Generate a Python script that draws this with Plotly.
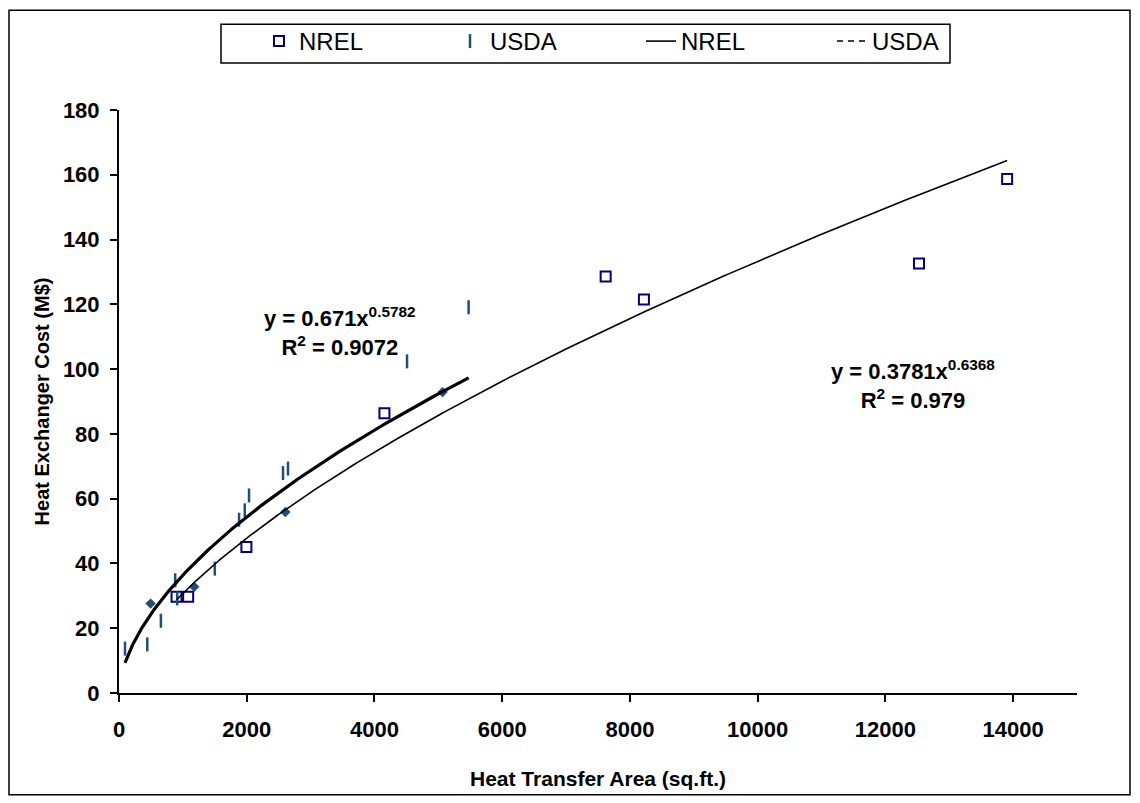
import numpy as np
import plotly.graph_objects as go

# ---- data ----
nrel_x = [901, 1083, 1995, 4156, 7620, 8219, 12526, 13906]
nrel_y = [29.7, 29.7, 45.1, 86.4, 128.6, 121.5, 132.6, 158.7]

usda_x = [94, 443, 656, 880, 911, 1500, 1880, 1969, 2036, 2568, 2646, 4510, 5474]
usda_y = [13.7, 15.0, 22.3, 34.8, 29.2, 38.4, 53.5, 56.4, 61.0, 67.9, 69.3, 102.4, 119.1]
# overlapping USDA points that render as small blobs
usda_blob_x = [495, 1177, 2605, 5067]
usda_blob_y = [27.6, 32.8, 55.9, 92.9]

# power-law trendlines y = a * x^b, as printed on the chart
nrel_fit = {"a": 0.3781, "b": 0.6368, "r2": 0.979, "xmin": 901, "xmax": 13906}
usda_fit = {"a": 0.671, "b": 0.5782, "r2": 0.9072, "xmin": 94, "xmax": 5474}

x_ticks = [0, 2000, 4000, 6000, 8000, 10000, 12000, 14000]
y_ticks = [0, 20, 40, 60, 80, 100, 120, 140, 160, 180]


def trend(fit):
    xs = np.geomspace(fit["xmin"], fit["xmax"], 300)
    return xs, fit["a"] * xs ** fit["b"]


FONT = "Arial, Liberation Sans, sans-serif"
NAVY = "#000080"
USDA_C = "#1F4E79"

# page has an 8px body margin: figure is 1132x795, placed at (8,8)
W, H = 1132, 795
ML, MT, PW, PH = 111, 101, 958, 584
MR, MB = W - ML - PW, H - MT - PH


def px_to_paper_x(fx):
    return (fx - ML) / PW


def px_to_paper_y(fy):
    return (MT + PH - fy) / PH


fig = go.Figure()

fig.add_trace(go.Scatter(
    x=nrel_x, y=nrel_y, mode="markers", name="NREL",
    marker=dict(symbol="square-open", size=10, color=NAVY, line=dict(width=2, color=NAVY)),
))
fig.add_trace(go.Scatter(
    x=usda_x, y=usda_y, mode="markers", name="USDA", legendgroup="usda",
    marker=dict(symbol="line-ns", size=10, color=USDA_C, line=dict(width=2.5, color=USDA_C)),
))
fig.add_trace(go.Scatter(
    x=usda_blob_x, y=usda_blob_y, mode="markers", name="USDA", legendgroup="usda",
    showlegend=False,
    marker=dict(symbol="diamond", size=8, color=USDA_C),
))

nx, ny = trend(nrel_fit)
fig.add_trace(go.Scatter(x=nx, y=ny, mode="lines", name="NREL",
                         line=dict(color="black", width=1.6)))

ux, uy = trend(usda_fit)
fig.add_trace(go.Scatter(x=ux, y=uy, mode="lines", name="USDA", showlegend=False,
                         legendgroup="usdafit",
                         line=dict(color="black", width=3.2)))
fig.add_trace(go.Scatter(x=[None], y=[None], mode="lines", name="USDA",
                         legendgroup="usdafit",
                         line=dict(color="black", width=1.5, dash="6px,5px")))

fig.add_annotation(
    x=3453, y=111.6, xref="x", yref="y", showarrow=False,
    text=f"y = {usda_fit['a']}x<sup>{usda_fit['b']}</sup><br>R<sup>2</sup> = {usda_fit['r2']}",
    font=dict(family=FONT, size=22, color="black", weight="bold"), align="center",
)
fig.add_annotation(
    x=12437, y=95.3, xref="x", yref="y", showarrow=False,
    text=f"y = {nrel_fit['a']}x<sup>{nrel_fit['b']}</sup><br>R<sup>2</sup> = {nrel_fit['r2']}",
    font=dict(family=FONT, size=22, color="black", weight="bold"), align="center",
)

# outer chart frame
fig.add_shape(type="rect", xref="paper", yref="paper",
              x0=px_to_paper_x(1), x1=px_to_paper_x(1122),
              y0=px_to_paper_y(787), y1=px_to_paper_y(1),
              line=dict(color="black", width=1.5), layer="below")
# legend frame
fig.add_shape(type="rect", xref="paper", yref="paper",
              x0=px_to_paper_x(213), x1=px_to_paper_x(942),
              y0=px_to_paper_y(54), y1=px_to_paper_y(15),
              line=dict(color="black", width=1.5), fillcolor="white", layer="below")

fig.update_layout(
    width=W, height=H,
    margin=dict(l=ML, r=MR, t=MT, b=MB),
    paper_bgcolor="white", plot_bgcolor="white",
    font=dict(family=FONT, color="black"),
    showlegend=True,
    legend=dict(
        orientation="h", x=px_to_paper_x(251), y=px_to_paper_y(11),
        xanchor="left", yanchor="top",
        borderwidth=0, bgcolor="rgba(0,0,0,0)",
        font=dict(family=FONT, size=24, color="black"),
        entrywidth=146, entrywidthmode="pixels",
        traceorder="normal",
    ),
    xaxis=dict(
        range=[0, 15000], tickvals=x_ticks, ticktext=[str(v) for v in x_ticks],
        showgrid=False, zeroline=False, showline=True, linecolor="black", linewidth=2,
        ticks="outside", ticklen=7, tickwidth=1.5, tickcolor="black",
        ticklabelstandoff=9,
        tickfont=dict(family=FONT, size=22, color="black", weight="bold"),
        title=dict(text="Heat Transfer Area (sq.ft.)", standoff=30,
                   font=dict(family=FONT, size=21, color="black", weight="bold")),
    ),
    yaxis=dict(
        range=[0, 180], tickvals=y_ticks, ticktext=[str(v) for v in y_ticks],
        showgrid=False, zeroline=False, showline=True, linecolor="black", linewidth=2,
        ticks="outside", ticklen=7, tickwidth=1.5, tickcolor="black",
        ticklabelstandoff=6,
        tickfont=dict(family=FONT, size=22, color="black", weight="bold"),
        title=dict(text="Heat Exchanger Cost (M$)", standoff=8,
                   font=dict(family=FONT, size=20, color="black", weight="bold")),
    ),
)

fig.write_html("out.html")
